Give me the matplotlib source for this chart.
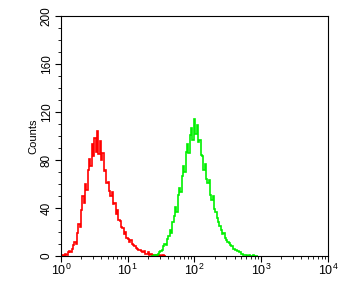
import numpy as np
import matplotlib
matplotlib.use("Agg")
import matplotlib.pyplot as plt
from matplotlib.ticker import LogLocator, MultipleLocator

plt.rcParams['font.family'] = ['Liberation Sans', 'DejaVu Sans']

# Histogram data (log10 channel start, bin width in log10 units, counts)
red_log_start = -0.02
green_log_start = 1.35
log_bin = 0.02
red_counts = [0, 0, 1, 0, 2, 1, 3, 4, 3, 6, 9, 12, 10, 19, 27, 24, 38, 50, 44, 60,
              55, 72, 81, 75, 93, 83, 98, 87, 104, 85, 96, 80, 86, 71, 72, 61, 62, 54, 50, 53,
              43, 44, 35, 38, 30, 29, 24, 23, 18, 20, 15, 14, 12, 13, 10, 9, 8, 7, 6, 5,
              5, 4, 3, 4, 2, 2, 3, 1, 2, 1, 1, 0, 1, 0, 1, 0, 0, 1, 0, 0]
green_counts = [0, 0, 1, 0, 1, 2, 3, 4, 5, 8, 10, 9, 14, 17, 22, 19, 28, 33, 41, 37,
                51, 57, 53, 67, 75, 70, 87, 93, 86, 101, 107, 97, 114, 102, 109, 95, 97, 84, 83, 72,
                77, 64, 61, 63, 51, 47, 50, 39, 37, 32, 28, 25, 22, 18, 19, 15, 13, 12, 11, 9,
                8, 6, 6, 5, 4, 4, 3, 2, 2, 1, 1, 1, 0, 1, 0, 0, 1, 0, 0, 0]

fig = plt.figure(figsize=(3.62, 2.86), dpi=100)
ax = fig.add_axes([61/362, 30/286, 267/362, 240/286])

def draw(start, counts, color):
    n = len(counts)
    edges = start + log_bin * np.arange(n + 1)
    xs = 10 ** edges
    ys = np.asarray(counts, dtype=float)
    ax.stairs(ys, xs, color=color, linewidth=1.2)

draw(red_log_start, red_counts, '#ff0000')
draw(green_log_start, green_counts, '#00f000')

ax.set_xscale('log')
ax.set_xlim(1, 1e4)
ax.set_ylim(0, 200)
ax.yaxis.set_major_locator(MultipleLocator(40))
ax.yaxis.set_minor_locator(MultipleLocator(10))
ax.xaxis.set_major_locator(LogLocator(base=10, numticks=10))
ax.xaxis.set_minor_locator(LogLocator(base=10, subs=np.arange(2, 10), numticks=10))
ax.tick_params(axis='both', which='major', direction='out', length=4, width=0.8, colors='black')
ax.tick_params(axis='both', which='minor', direction='out', length=2, width=0.6)
ax.tick_params(axis='x', labelsize=9, pad=1)
ax.tick_params(axis='y', labelsize=8.5, pad=2)
for lbl in ax.get_yticklabels():
    lbl.set_rotation(90)
    lbl.set_va('center')
ax.set_ylabel('Counts', fontsize=8, labelpad=2)
for s in ax.spines.values():
    s.set_linewidth(0.8)

fig.savefig('out.png', dpi=100)
